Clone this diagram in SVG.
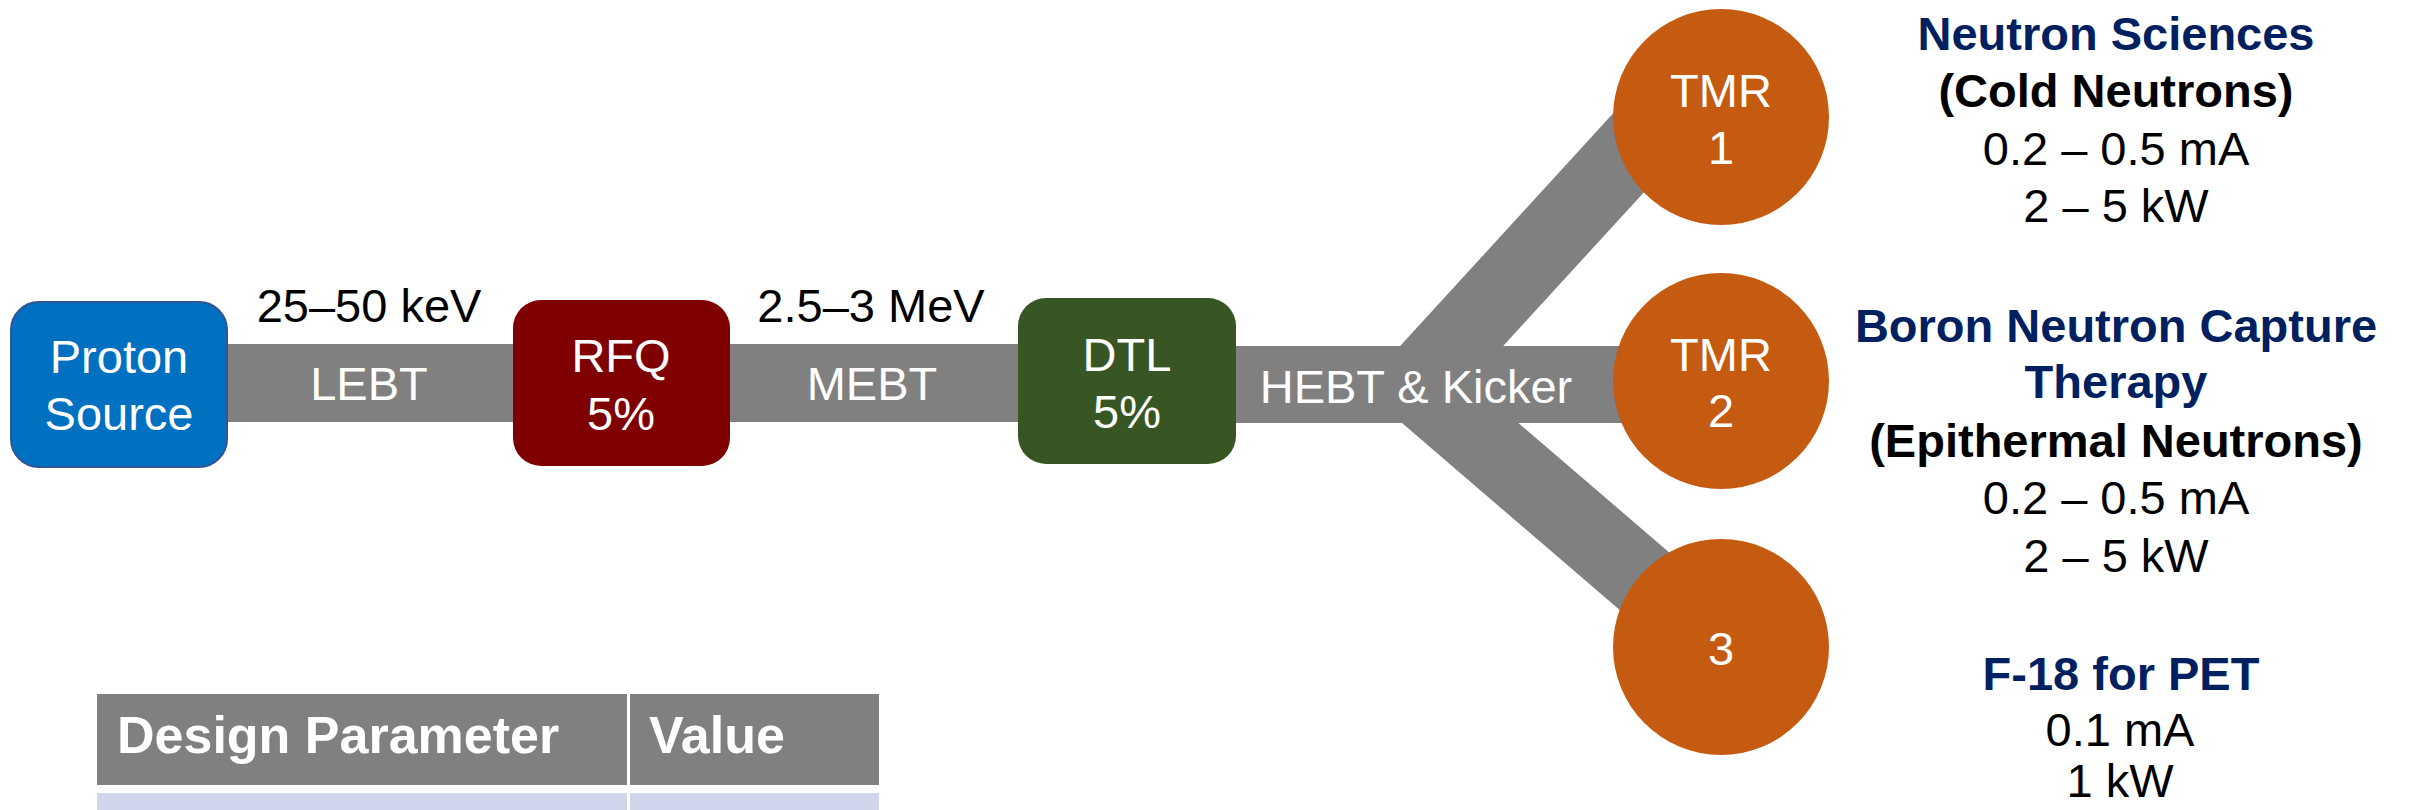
<svg xmlns="http://www.w3.org/2000/svg" width="2410" height="810" viewBox="0 0 2410 810">
<style>
  text { font-family: "Liberation Sans", Arial, sans-serif; font-size: 47px; text-anchor: middle; }
  .w { fill: #ffffff; }
  .k { fill: #000000; }
  .nb { fill: #002060; font-weight: bold; }
  .kb { fill: #000000; font-weight: bold; }
  .bar { fill: #808080; }
  .br { stroke: #808080; stroke-width: 76; stroke-linecap: butt; }
  .tmr { fill: #C55A11; }
  .th { fill: #ffffff; font-weight: bold; font-size: 52px; text-anchor: start; }
</style>
<rect width="2410" height="810" fill="#ffffff"/>

<g id="connectors">
  <rect id="lebt-bar" class="bar" x="220" y="344" width="300" height="78"/>
  <rect id="mebt-bar" class="bar" x="722" y="344" width="302" height="78"/>
  <rect id="hebt-bar" class="bar" x="1230" y="346" width="491" height="77"/>
  <line id="branch-1" class="br" x1="1416" y1="385" x2="1686" y2="90"/>
  <line id="branch-3" class="br" x1="1416" y1="385" x2="1721" y2="647"/>
  <text class="w" x="369" y="400">LEBT</text>
  <text class="w" x="872" y="400">MEBT</text>
  <text class="w" x="1416" y="403">HEBT &amp; Kicker</text>
  <text class="k" x="369" y="322">25–50 keV</text>
  <text class="k" x="871" y="322">2.5–3 MeV</text>
</g>

<g id="proton-source">
  <rect x="11" y="302" width="216" height="165" rx="28" fill="#0070C0" stroke="#2F5597" stroke-width="2"/>
  <text class="w" x="119" y="373">Proton</text>
  <text class="w" x="119" y="430">Source</text>
</g>

<g id="rfq">
  <rect x="513" y="300" width="217" height="166" rx="28" fill="#7F0000"/>
  <text class="w" x="621" y="372">RFQ</text>
  <text class="w" x="621" y="430">5%</text>
</g>

<g id="dtl">
  <rect x="1018" y="298" width="218" height="166" rx="28" fill="#375623"/>
  <text class="w" x="1127" y="371">DTL</text>
  <text class="w" x="1127" y="428">5%</text>
</g>

<g id="tmr1">
  <circle class="tmr" cx="1721" cy="117" r="108"/>
  <text class="w" x="1721" y="107">TMR</text>
  <text class="w" x="1721" y="164">1</text>
</g>

<g id="tmr2">
  <circle class="tmr" cx="1721" cy="381" r="108"/>
  <text class="w" x="1721" y="371">TMR</text>
  <text class="w" x="1721" y="427">2</text>
</g>

<g id="tmr3">
  <circle class="tmr" cx="1721" cy="647" r="108"/>
  <text class="w" x="1721" y="665">3</text>
</g>

<g id="label-neutron-sciences">
  <text class="nb" x="2116" y="50">Neutron Sciences</text>
  <text class="kb" x="2116" y="107">(Cold Neutrons)</text>
  <text class="k" x="2116" y="165">0.2 – 0.5 mA</text>
  <text class="k" x="2116" y="222">2 – 5 kW</text>
</g>

<g id="label-bnct">
  <text class="nb" x="2116" y="342">Boron Neutron Capture</text>
  <text class="nb" x="2116" y="398">Therapy</text>
  <text class="kb" x="2116" y="457">(Epithermal Neutrons)</text>
  <text class="k" x="2116" y="514">0.2 – 0.5 mA</text>
  <text class="k" x="2116" y="572">2 – 5 kW</text>
</g>

<g id="label-pet">
  <text class="nb" x="2121" y="690">F-18 for PET</text>
  <text class="k" x="2120" y="746">0.1 mA</text>
  <text class="k" x="2120" y="797">1 kW</text>
</g>

<g id="table">
  <rect x="97" y="694" width="530" height="91" fill="#808080"/>
  <rect x="630" y="694" width="249" height="91" fill="#808080"/>
  <rect x="97" y="793" width="530" height="17" fill="#CFD5EA"/>
  <rect x="630" y="793" width="249" height="17" fill="#CFD5EA"/>
  <text class="th" x="117" y="753">Design Parameter</text>
  <text class="th" x="649" y="753">Value</text>
</g>
</svg>
